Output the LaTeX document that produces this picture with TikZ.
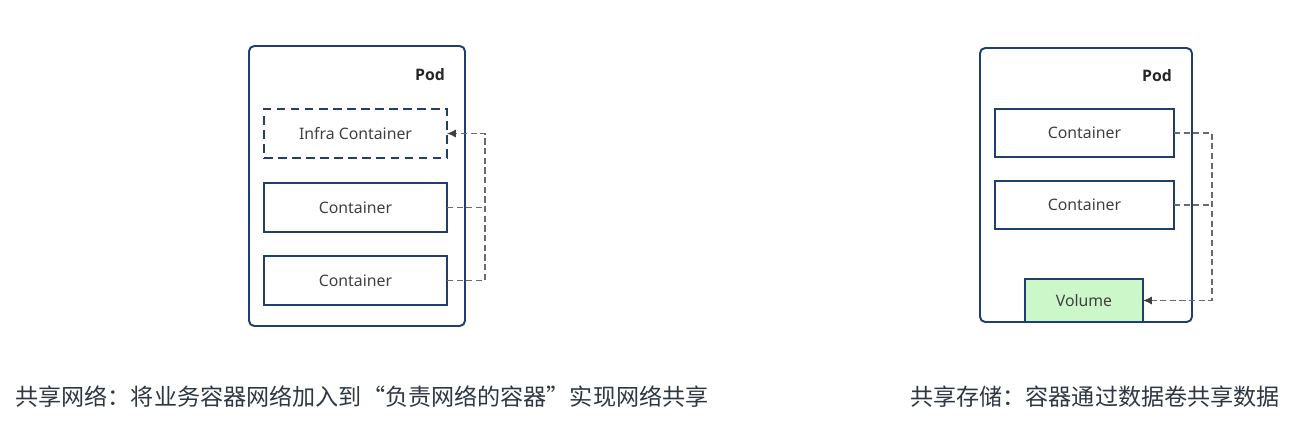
\documentclass[tikz,border=0pt]{standalone}
\usepackage{fontspec}
\setmainfont{Noto Sans}
\newfontfamily\cjk{Noto Sans CJK SC}
\newfontfamily\podfont{Open Sans}
\usepackage{xcolor}
\usepackage{tikz}
\usetikzlibrary{arrows.meta}
\definecolor{podblue}{HTML}{1F3F6E}
\definecolor{linkgray}{HTML}{6A6A6A}
\definecolor{volgreen}{HTML}{CCF7C9}
\definecolor{captext}{HTML}{2E3742}
\tikzstyle{pod}=[draw=podblue,line width=1.1pt,rectangle,rounded corners=3pt,inner sep=0,outer sep=0]
\tikzstyle{box}=[draw=podblue,line width=1.1pt,rectangle,align=center,inner sep=0,outer sep=0,text=black!75,font=\fontsize{9}{11}\selectfont]
\tikzstyle{infra}=[box,dashed,dash pattern=on 5pt off 3pt]
\tikzstyle{vol}=[box,fill=volgreen]
\tikzstyle{podname}=[font=\podfont\fontsize{9}{11}\selectfont\bfseries,text=black!85]
\tikzstyle{link}=[draw=linkgray,line width=0.6pt,dashed,dash pattern=on 3.5pt off 2pt]
\tikzstyle{tip}=[-{Latex[length=5pt,width=4.5pt,color=black!75]}]
\tikzstyle{caption}=[font=\cjk\fontsize{13.15}{15}\selectfont,text=captext]

\begin{document}
\begin{tikzpicture}
	\useasboundingbox (0,0) rectangle (25.86,-8.6);

% % % shared network
	\node[pod,minimum width=4.32cm,minimum height=5.6cm] (POD1) at (7.14,-3.72) {};
	\node[podname] (pod1) at (8.6,-1.5) {Pod};
	\node[infra,minimum width=3.66cm,minimum height=0.98cm] (infra) at (7.11,-2.67) {Infra Container};
	\node[box,minimum width=3.66cm,minimum height=0.98cm] (con1) at (7.11,-4.15) {Container};
	\node[box,minimum width=3.66cm,minimum height=0.98cm] (con2) at (7.11,-5.61) {Container};
	\coordinate (bus1) at (9.7,0);

	\path[link] (con1.east) -- (con1.east -| bus1);
	\path[link,tip] (con2.east) -- (con2.east -| bus1) |- (infra.east);

	\node[caption] (cap1) at (7.24,-7.94) {共享网络：将业务容器网络加入到“负责网络的容器”实现网络共享};

% % % shared storage
	\node[pod,minimum width=4.24cm,minimum height=5.48cm] (POD2) at (21.72,-3.7) {};
	\node[podname] (pod2) at (23.14,-1.52) {Pod};
	\node[box,minimum width=3.58cm,minimum height=0.96cm] (rcon1) at (21.69,-2.66) {Container};
	\node[box,minimum width=3.58cm,minimum height=0.96cm] (rcon2) at (21.69,-4.1) {Container};
	\node[vol,minimum width=2.36cm,minimum height=0.86cm] (vol) at (21.68,-6.01) {Volume};
	\coordinate (bus2) at (24.24,0);

	\path[link] (rcon2.east) -- (rcon2.east -| bus2);
	\path[link,tip] (rcon1.east) -- (rcon1.east -| bus2) |- (vol.east);

	\node[caption] (cap2) at (21.9,-7.94) {共享存储：容器通过数据卷共享数据};
\end{tikzpicture}
\end{document}
